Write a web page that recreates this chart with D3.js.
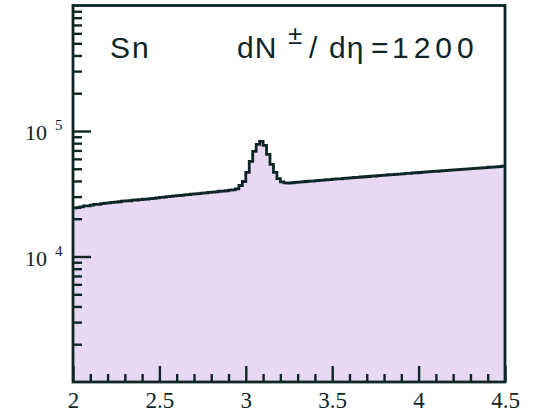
<!DOCTYPE html>
<html>
<head>
<meta charset="utf-8">
<script src="https://cdn.jsdelivr.net/npm/d3@7"></script>
<style>
  html, body { margin: 0; padding: 0; background: #ffffff; }
  svg { display: block; }
</style>
</head>
<body>
<svg id="chart" width="533" height="412"></svg>
<script>
// ---- data ----
const binStart = 2.0;
const binWidth = 0.02;
const counts = [
  24400, 24500, 24900, 25300, 25300, 25700, 26000, 26000, 26400, 26600,
  26700, 27000, 27100, 27300, 27600, 27700, 27800, 28100, 28200, 28400,
  28600, 28700, 28900, 29100, 29300, 29600, 29700, 30000, 30100, 30400,
  30500, 30700, 31000, 31100, 31400, 31600, 31700, 32000, 32100, 32400,
  32600, 32700, 33100, 33200, 33400, 33800, 34000, 34600,
  36800, 39600, 46800, 57300, 68800, 78300, 82800, 76900, 65200, 54200,
  46800, 41700, 39300, 38600, 38500,
  38700, 38900, 39200, 39300, 39600, 39800, 39900, 40300, 40400, 40600,
  40900, 41000, 41300, 41500, 41600, 41900, 42100, 42300, 42600, 42700,
  43000, 43200, 43400, 43700, 43800, 44100, 44300, 44500, 44800, 44900,
  45200, 45400, 45600, 45900, 46000, 46300, 46500, 46700, 47000, 47200,
  47400, 47700, 47800, 48100, 48300, 48600, 48800, 49000, 49300, 49400,
  49700, 49900, 50200, 50400, 50600, 50900, 51100, 51400, 51600, 51800,
  52100, 52400
];
const xDomain = [2, 4.5];
const yDomain = [1e3, 1e6];
const xMajorTicks = [2, 2.5, 3, 3.5, 4, 4.5];
const xTickLabels = ["2", "2.5", "3", "3.5", "4", "4.5"];
const yMajorTicks = [1e4, 1e5];
const yTickExponents = ["4", "5"];
const label1 = "Sn";
const label2Parts = ["dN", "\u00B1", "/", "d\u03B7", "=", "1200"];

// ---- layout ----
const mLeft = 73, mRight = 505, mTop = 5.5, mBottom = 382;
const ink = "#0e2626";
const fillCol = "#e9d8f4";

const svg = d3.select("#chart");
const x = d3.scaleLinear().domain(xDomain).range([mLeft, mRight]);
const y = d3.scaleLog().domain(yDomain).range([mBottom, mTop]);

// histogram points (step after)
const pts = counts.map((c, i) => ({ x: binStart + i * binWidth, v: c }));
pts.push({ x: xDomain[1], v: counts[counts.length - 1] });

const area = d3.area()
  .x(d => x(d.x))
  .y0(mBottom)
  .y1(d => y(d.v))
  .curve(d3.curveStepAfter);
const line = d3.line()
  .x(d => x(d.x))
  .y(d => y(d.v))
  .curve(d3.curveStepAfter);

svg.append("path").datum(pts).attr("d", area).attr("fill", fillCol).attr("stroke", "none");
svg.append("path").datum(pts).attr("d", line).attr("fill", "none")
  .attr("stroke", ink).attr("stroke-width", 2.8).attr("stroke-linejoin", "miter");

// ---- y axis ticks ----
const yMinor = [];
[1e3, 1e4, 1e5].forEach(d => { for (let k = 2; k <= 9; k++) yMinor.push(d * k); });

const gyMinor = svg.append("g").attr("transform", `translate(${mLeft},0)`)
  .call(d3.axisLeft(y).tickValues(yMinor).tickSize(-9).tickFormat(""));
const gyMajor = svg.append("g").attr("transform", `translate(${mLeft},0)`)
  .call(d3.axisLeft(y).tickValues(yMajorTicks).tickSize(-18).tickFormat(""));
[gyMinor, gyMajor].forEach(g => {
  g.select(".domain").remove();
  g.selectAll("line").attr("stroke", ink).attr("stroke-width", 2.4);
});

// y labels 10^n
yMajorTicks.forEach((v, i) => {
  const t = svg.append("text")
    .attr("x", 25).attr("y", y(v) + 9)
    .attr("font-family", "'Liberation Serif', 'DejaVu Serif', serif")
    .attr("font-size", 22).attr("fill", ink);
  t.append("tspan").text("10");
  t.append("tspan").attr("x", 55).attr("dy", -10).attr("font-size", 15).text(yTickExponents[i]);
});

// ---- x axis ticks ----
const xMinor = d3.range(21, 45).map(k => k / 10).filter(v => Math.abs(v * 2 - Math.round(v * 2)) > 1e-6);
const gxMinor = svg.append("g").attr("transform", `translate(0,${mBottom})`)
  .call(d3.axisBottom(x).tickValues(xMinor).tickSize(-8).tickFormat(""));
const gxMajor = svg.append("g").attr("transform", `translate(0,${mBottom})`)
  .call(d3.axisBottom(x).tickValues(xMajorTicks).tickSize(-16).tickFormat((d, i) => xTickLabels[i]));
[gxMinor, gxMajor].forEach(g => {
  g.select(".domain").remove();
  g.selectAll("line").attr("stroke", ink).attr("stroke-width", 2.4);
});
gxMajor.selectAll("text")
  .attr("y", 26).attr("dy", 0)
  .attr("font-family", "'Liberation Serif', 'DejaVu Serif', serif")
  .attr("font-size", 23).attr("fill", ink);

// ---- frame ----
svg.append("rect")
  .attr("x", mLeft).attr("y", mTop)
  .attr("width", mRight - mLeft).attr("height", mBottom - mTop)
  .attr("fill", "none").attr("stroke", ink).attr("stroke-width", 2.8);

// ---- labels ----
const sans = "'Liberation Sans', Arial, sans-serif";
svg.append("text").attr("x", 110).attr("y", 58)
  .attr("font-family", sans).attr("letter-spacing", 2)
  .attr("font-size", 30).attr("fill", ink).text(label1);

const t2 = svg.append("text").attr("y", 58)
  .attr("font-family", sans).attr("font-size", 30).attr("fill", ink);
t2.append("tspan").attr("x", 237).attr("letter-spacing", 1).text(label2Parts[0]);
t2.append("tspan").attr("x", 288).attr("y", 44).attr("font-size", 26).text(label2Parts[1]);
t2.append("tspan").attr("x", 309).attr("y", 58).text(label2Parts[2]);
t2.append("tspan").attr("x", 329).attr("letter-spacing", 1).text(label2Parts[3]);
t2.append("tspan").attr("x", 371).text(label2Parts[4]);
t2.append("tspan").attr("x", 392).attr("letter-spacing", 5).text(label2Parts[5]);
</script>
</body>
</html>
